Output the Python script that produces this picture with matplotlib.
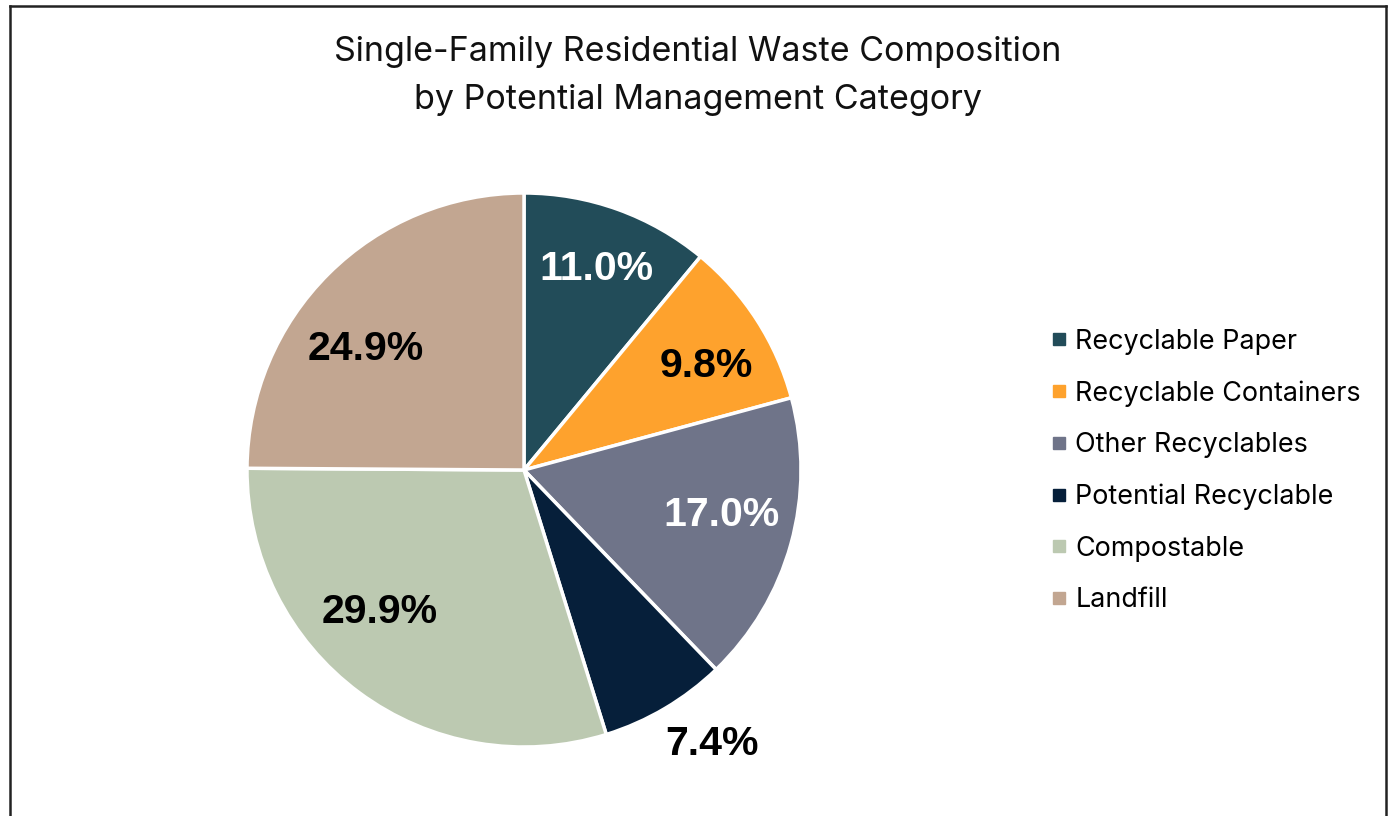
import matplotlib
matplotlib.use("Agg")
import matplotlib.pyplot as plt
from matplotlib.lines import Line2D
import numpy as np

# ---- data ----
categories = ["Recyclable Paper", "Recyclable Containers", "Other Recyclables",
              "Potential Recyclable", "Compostable", "Landfill"]
values = [11.0, 9.8, 17.0, 7.4, 29.9, 24.9]
colors = ["#224c59", "#fea22d", "#6f7489", "#061f3a", "#bcc9b1", "#c2a691"]
label_colors = ["white", "black", "white", "black", "black", "black"]
title = "Single-Family Residential Waste Composition\nby Potential Management Category"

# label placement (radius factor, angle shift in degrees) - styling only
label_radius = [0.77, 0.76, 0.73, 1.20, 0.73, 0.72]
label_shift = [0.0, -3.0, 2.5, 3.8, -9.0, 7.8]

W, H = 1388, 816
fig = plt.figure(figsize=(W / 100, H / 100), dpi=100)
fig.patch.set_facecolor("white")

# pie axes: center (524, 470) px, radius 277 px
cx, cy, r = 524, 470, 277
ax = fig.add_axes([(cx - r) / W, (H - cy - r) / H, 2 * r / W, 2 * r / H])
wedges, _ = ax.pie(values, colors=colors, startangle=90, counterclock=False,
                   radius=1.0,
                   wedgeprops=dict(edgecolor="white", linewidth=2.5))
ax.set_xlim(-1, 1)
ax.set_ylim(-1, 1)
ax.set_aspect("equal")
ax.axis("off")

for w, v, c, rf, sh in zip(wedges, values, label_colors, label_radius, label_shift):
    ang = np.deg2rad((w.theta1 + w.theta2) / 2 + sh)
    ax.text(rf * np.cos(ang), rf * np.sin(ang), f"{v:.1f}%",
            ha="center", va="center", color=c, fontsize=29.5, fontweight="bold",
            family="Liberation Sans", clip_on=False)

# title
fig.text(698 / W, 1 - 75.5 / H, title, ha="center", va="center",
         fontsize=24.5, family="Inter", linespacing=1.64, color="#111111")

# legend
handles = [Line2D([0], [0], marker="s", linestyle="none", markersize=8.5,
                  markerfacecolor=col, markeredgecolor=col) for col in colors]
fig.legend(handles, categories, loc="center left",
           bbox_to_anchor=(1053 / W, 1 - 471 / H), frameon=False,
           borderaxespad=0, borderpad=0, handlelength=0.45, handletextpad=0.38,
           labelspacing=0.95, prop=dict(family="Inter", size=19.4))

# outer frame (left, top, right)
frame_kw = dict(color="#222222", linewidth=1.8, transform=fig.transFigure)
fig.add_artist(Line2D([10 / W, 10 / W], [0, 1 - 6 / H], **frame_kw))
fig.add_artist(Line2D([10 / W, 1386 / W], [1 - 6 / H, 1 - 6 / H], **frame_kw))
fig.add_artist(Line2D([1386 / W, 1386 / W], [0, 1 - 6 / H], **frame_kw))

fig.savefig("out.png", dpi=100)
